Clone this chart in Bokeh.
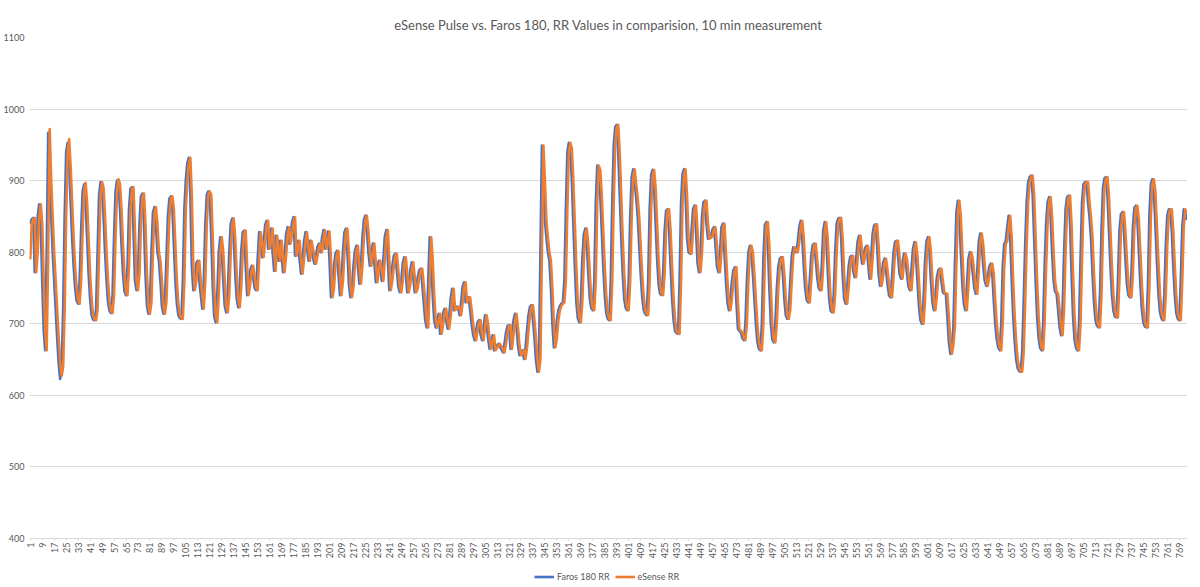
import math

from bokeh.embed import file_html
from bokeh.layouts import column
from bokeh.models import ColumnDataSource, FixedTicker, Legend, Range1d
from bokeh.plotting import figure
from bokeh.resources import INLINE

title_text = "eSense Pulse vs. Faros 180, RR Values in comparision, 10 min measurement"

# RR intervals in ms, one value per beat
faros_rr = [
    840, 846, 848, 772, 800, 850, 867, 840, 760, 690,
    663, 800, 967, 900, 850, 800, 760, 720, 680, 645,
    623, 640, 720, 850, 940, 953, 920, 870, 820, 780,
    750, 732, 728, 760, 830, 885, 895, 870, 820, 770,
    735, 712, 706, 705, 720, 800, 880, 898, 890, 850,
    800, 760, 730, 718, 715, 740, 820, 885, 900, 895,
    860, 810, 770, 745, 740, 780, 860, 889, 891, 830,
    760, 747, 770, 840, 878, 882, 840, 770, 725, 714,
    730, 800, 855, 863, 840, 800, 788, 760, 725, 714,
    730, 790, 850, 875, 878, 860, 810, 760, 728, 712,
    708, 707, 760, 860, 902, 925, 932, 880, 780, 747,
    760, 785, 788, 760, 740, 721, 760, 840, 880, 885,
    880, 820, 750, 710, 702, 740, 800, 821, 800, 760,
    725, 716, 740, 800, 840, 847, 820, 770, 735, 723,
    750, 800, 828, 830, 780, 740, 755, 775, 781, 765,
    750, 747, 790, 828, 815, 793, 815, 838, 844, 805,
    815, 833, 800, 774, 823, 805, 788, 816, 795, 772,
    795, 825, 835, 812, 825, 842, 849, 795, 805, 816,
    790, 770, 790, 815, 828, 805, 788, 816, 805, 792,
    784, 795, 808, 812, 800, 820, 831, 805, 815, 829,
    790, 737, 750, 780, 798, 802, 770, 740, 760, 800,
    828, 833, 800, 755, 737, 750, 780, 802, 809, 780,
    756, 780, 820, 845, 851, 830, 800, 781, 798, 812,
    785, 758, 775, 788, 775, 760, 790, 822, 831, 790,
    747, 760, 780, 795, 798, 775, 752, 744, 760, 785,
    793, 770, 744, 755, 775, 786, 765, 744, 750, 765,
    775, 777, 755, 730, 705, 695, 760, 821, 790, 740,
    705, 695, 705, 714, 686, 700, 715, 721, 705, 693,
    710, 735, 749, 719, 721, 724, 723, 712, 730, 752,
    758, 730, 735, 737, 720, 700, 685, 677, 690, 702,
    705, 685, 677, 695, 712, 700, 680, 665, 675, 684,
    663, 666, 670, 672, 668, 664, 660, 672, 688, 697,
    698, 665, 685, 705, 714, 695, 670, 656, 660, 663,
    651, 665, 690, 712, 724, 726, 705, 681, 650, 633,
    650, 800, 949, 900, 844, 820, 800, 788, 750, 700,
    667, 680, 705, 719, 725, 728, 730, 760, 860, 940,
    953, 945, 900, 840, 780, 730, 708, 702, 730, 790,
    825, 833, 810, 770, 735, 722, 719, 760, 870, 921,
    915, 880, 830, 780, 740, 715, 707, 705, 760, 870,
    950, 975, 978, 940, 880, 820, 770, 735, 722, 719,
    760, 850, 905, 916, 895, 877, 850, 810, 770, 738,
    720, 714, 712, 760, 860, 908, 915, 890, 840, 790,
    755, 742, 740, 770, 830, 858, 860, 830, 780, 735,
    705, 690, 687, 686, 760, 870, 910, 916, 880, 820,
    800, 798, 830, 860, 865, 830, 785, 772, 800, 850,
    870, 872, 840, 819, 820, 823, 832, 835, 810, 780,
    772, 800, 835, 840, 800, 760, 730, 719, 735, 760,
    775, 779, 730, 693, 690, 688, 680, 677, 700, 760,
    800, 809, 800, 770, 735, 700, 675, 665, 663, 700,
    790, 838, 842, 810, 750, 700, 678, 674, 700, 750,
    780, 791, 793, 770, 735, 712, 707, 720, 760, 795,
    807, 803, 800, 814, 835, 844, 820, 780, 748, 733,
    730, 760, 795, 810, 812, 790, 765, 750, 747, 780,
    830, 842, 820, 775, 735, 718, 716, 740, 800, 840,
    847, 848, 820, 770, 735, 728, 750, 780, 793, 795,
    775, 765, 790, 815, 823, 800, 784, 795, 806, 809,
    785, 763, 790, 825, 837, 839, 810, 770, 753, 765,
    785, 791, 775, 755, 740, 737, 765, 800, 814, 816,
    795, 770, 763, 785, 798, 790, 770, 752, 747, 775,
    805, 814, 795, 760, 725, 705, 700, 730, 785, 815,
    821, 800, 760, 730, 719, 740, 765, 775, 777, 760,
    744, 742, 742, 710, 675, 658, 670, 695, 780, 855,
    872, 850, 800, 755, 728, 719, 750, 790, 800, 790,
    770, 750, 742, 775, 815, 826, 810, 780, 760, 753,
    765, 780, 784, 770, 733, 700, 678, 667, 663, 700,
    780, 812, 815, 835, 851, 820, 760, 710, 675, 650,
    638, 634, 633, 660, 730, 810, 870, 898, 905, 907,
    880, 820, 760, 710, 680, 666, 663, 700, 780, 840,
    870, 877, 850, 800, 760, 745, 742, 720, 695, 684,
    720, 800, 860, 877, 879, 840, 770, 710, 678, 666,
    663, 700, 790, 870, 895, 898, 898, 870, 849, 820,
    770, 730, 705, 697, 695, 740, 830, 890, 903, 905,
    880, 830, 780, 740, 718, 710, 709, 760, 830, 853,
    856, 830, 790, 755, 740, 737, 770, 835, 862, 865,
    845, 800, 755, 720, 702, 696, 695, 750, 850, 895,
    902, 885, 840, 790, 745, 718, 708, 705, 740, 810,
    852, 860, 860, 830, 780, 740, 715, 707, 705, 760,
    835, 860, 855, 845,
]

esense_rr = [
    790, 840, 846, 848, 772, 800, 850, 867, 840, 760,
    690, 663, 800, 972, 900, 850, 800, 760, 720, 680,
    645, 627, 640, 720, 850, 940, 958, 920, 870, 820,
    780, 750, 732, 728, 760, 830, 885, 897, 870, 820,
    770, 735, 712, 706, 705, 720, 800, 880, 898, 890,
    850, 800, 760, 730, 718, 715, 740, 820, 885, 902,
    895, 860, 810, 770, 745, 740, 780, 860, 889, 891,
    830, 760, 747, 770, 840, 878, 882, 840, 770, 725,
    714, 730, 800, 855, 863, 840, 800, 788, 760, 725,
    714, 730, 790, 850, 875, 878, 860, 810, 760, 728,
    712, 708, 707, 760, 860, 902, 925, 932, 880, 780,
    747, 760, 785, 788, 760, 740, 721, 760, 840, 880,
    885, 880, 820, 750, 710, 702, 740, 800, 821, 800,
    760, 725, 716, 740, 800, 840, 847, 820, 770, 735,
    723, 750, 800, 828, 830, 780, 740, 755, 775, 781,
    765, 750, 747, 790, 828, 815, 793, 815, 838, 844,
    805, 815, 833, 800, 774, 823, 805, 788, 816, 795,
    772, 795, 825, 835, 812, 825, 842, 849, 795, 805,
    816, 790, 770, 790, 815, 828, 805, 788, 816, 805,
    792, 784, 795, 808, 812, 800, 820, 831, 805, 815,
    829, 790, 737, 750, 780, 798, 802, 770, 740, 760,
    800, 828, 833, 800, 755, 737, 750, 780, 802, 809,
    780, 756, 780, 820, 845, 851, 830, 800, 781, 798,
    812, 785, 758, 775, 788, 775, 760, 790, 822, 831,
    790, 747, 760, 780, 795, 798, 775, 752, 744, 760,
    785, 793, 770, 744, 755, 775, 786, 765, 744, 750,
    765, 775, 777, 755, 730, 705, 695, 760, 821, 790,
    740, 705, 695, 705, 714, 686, 700, 715, 721, 705,
    693, 710, 735, 749, 719, 721, 724, 723, 712, 730,
    752, 758, 730, 735, 737, 720, 700, 685, 677, 690,
    702, 705, 685, 677, 695, 712, 700, 680, 665, 675,
    684, 663, 666, 670, 672, 668, 664, 660, 672, 688,
    697, 698, 665, 685, 705, 714, 695, 670, 656, 660,
    663, 651, 665, 690, 712, 724, 726, 705, 681, 650,
    633, 650, 800, 949, 900, 844, 820, 800, 788, 750,
    700, 667, 680, 705, 719, 725, 728, 730, 760, 860,
    940, 953, 945, 900, 840, 780, 730, 708, 702, 730,
    790, 825, 833, 810, 770, 735, 722, 719, 760, 870,
    921, 915, 880, 830, 780, 740, 715, 707, 705, 760,
    870, 950, 975, 978, 940, 880, 820, 770, 735, 722,
    719, 760, 850, 905, 916, 895, 877, 850, 810, 770,
    738, 720, 714, 712, 760, 860, 908, 915, 890, 840,
    790, 755, 742, 740, 770, 830, 858, 860, 830, 780,
    735, 705, 690, 687, 686, 760, 870, 910, 916, 880,
    820, 800, 798, 830, 860, 865, 830, 785, 772, 800,
    850, 870, 872, 840, 819, 820, 823, 832, 835, 810,
    780, 772, 800, 835, 840, 800, 760, 730, 719, 735,
    760, 775, 779, 730, 693, 690, 688, 680, 677, 700,
    760, 800, 809, 800, 770, 735, 700, 675, 665, 663,
    700, 790, 838, 842, 810, 750, 700, 678, 674, 700,
    750, 780, 791, 793, 770, 735, 712, 707, 720, 760,
    795, 807, 803, 800, 814, 835, 844, 820, 780, 748,
    733, 730, 760, 795, 810, 812, 790, 765, 750, 747,
    780, 830, 842, 820, 775, 735, 718, 716, 740, 800,
    840, 847, 848, 820, 770, 735, 728, 750, 780, 793,
    795, 775, 765, 790, 815, 823, 800, 784, 795, 806,
    809, 785, 763, 790, 825, 837, 839, 810, 770, 753,
    765, 785, 791, 775, 755, 740, 737, 765, 800, 814,
    816, 795, 770, 763, 785, 798, 790, 770, 752, 747,
    775, 805, 814, 795, 760, 725, 705, 700, 730, 785,
    815, 821, 800, 760, 730, 719, 740, 765, 775, 777,
    760, 744, 742, 742, 710, 675, 658, 670, 695, 780,
    855, 872, 850, 800, 755, 728, 719, 750, 790, 800,
    790, 770, 750, 742, 775, 815, 826, 810, 780, 760,
    753, 765, 780, 784, 770, 733, 700, 678, 667, 663,
    700, 780, 812, 815, 835, 851, 820, 760, 710, 675,
    650, 638, 634, 633, 660, 730, 810, 870, 898, 905,
    907, 880, 820, 760, 710, 680, 666, 663, 700, 780,
    840, 870, 877, 850, 800, 760, 745, 742, 720, 695,
    684, 720, 800, 860, 877, 879, 840, 770, 710, 678,
    666, 663, 700, 790, 870, 895, 898, 898, 870, 849,
    820, 770, 730, 705, 697, 695, 740, 830, 890, 903,
    905, 880, 830, 780, 740, 718, 710, 709, 760, 830,
    853, 856, 830, 790, 755, 740, 737, 770, 835, 862,
    865, 845, 800, 755, 720, 702, 696, 695, 750, 850,
    895, 902, 885, 840, 790, 745, 718, 708, 705, 740,
    810, 852, 860, 860, 830, 780, 740, 715, 707, 705,
    760, 835, 860, 855,
]

beats = list(range(1, len(faros_rr) + 1))
x_ticks = list(range(1, 770, 8))
y_ticks = [400, 500, 600, 700, 800, 900, 1000, 1100]

FONT = "Lato"
GREY = "#595959"
BLUE = "#4472C4"
ORANGE = "#ED7D31"

source = ColumnDataSource(data=dict(beat=beats, faros=faros_rr, esense=esense_rr))

p = figure(frame_width=1158, frame_height=501, output_backend="svg", toolbar_location=None,
           x_range=Range1d(0.5, len(beats) + 0.5), y_range=Range1d(400, 1100),
           min_border_left=20, min_border_right=0, min_border_top=37, min_border_bottom=0)

p.title.text = title_text
p.title.align = "center"
p.title.text_font = FONT
p.title.text_font_size = "13px"
p.title.text_font_style = "normal"
p.title.text_color = GREY
p.outline_line_color = None

p.line(x="beat", y="faros", source=source, color=BLUE, line_width=2.6, line_join="round")
p.line(x="beat", y="esense", source=source, color=ORANGE, line_width=2.6, line_join="round")

p.xgrid.grid_line_color = None
p.ygrid.grid_line_color = "#D9D9D9"
p.ygrid.ticker = FixedTicker(ticks=y_ticks)

p.yaxis.ticker = FixedTicker(ticks=y_ticks)
p.yaxis.axis_label = None
p.yaxis.axis_line_color = None
p.yaxis.major_tick_line_color = None
p.yaxis.major_tick_out = 0
p.yaxis.minor_tick_line_color = None
p.yaxis.major_label_text_font = FONT
p.yaxis.major_label_text_font_size = "9px"
p.yaxis.major_label_text_color = GREY
p.yaxis.major_label_standoff = 5

p.xaxis.ticker = FixedTicker(ticks=x_ticks)
p.xaxis.axis_label = None
p.xaxis.axis_line_color = "#D9D9D9"
p.xaxis.major_tick_line_color = "#D9D9D9"
p.xaxis.major_tick_in = 0
p.xaxis.major_tick_out = 2
p.xaxis.minor_tick_line_color = None
p.xaxis.minor_tick_out = 0
p.xaxis.major_label_orientation = math.pi / 2
p.xaxis.major_label_text_font = FONT
p.xaxis.major_label_text_font_size = "9px"
p.xaxis.major_label_text_color = GREY
p.xaxis.major_label_standoff = 2
p.xaxis.axis_label_standoff = 0

# legend strip under the chart: same series, drawn out of view, only the legend shows
lf = figure(width=1183, height=24, output_backend="svg", toolbar_location=None,
            x_range=p.x_range, y_range=Range1d(0, 1), x_axis_type=None, y_axis_type=None,
            min_border=0)
lf.outline_line_color = None
lf.xgrid.grid_line_color = None
lf.ygrid.grid_line_color = None
r_faros = lf.line(x="beat", y="faros", source=source, color=BLUE, line_width=2.6)
r_esense = lf.line(x="beat", y="esense", source=source, color=ORANGE, line_width=2.6)

legend = Legend(items=[("Faros 180 RR", [r_faros]), ("eSense RR", [r_esense])],
                orientation="horizontal", location=(505, 3))
legend.label_text_font = FONT
legend.label_text_font_size = "9px"
legend.label_text_color = GREY
legend.label_height = 9
legend.label_standoff = 3
legend.glyph_width = 20
legend.glyph_height = 9
legend.spacing = 5
legend.padding = 0
legend.margin = 0
legend.border_line_color = None
legend.background_fill_alpha = 0
lf.add_layout(legend)

open("out.html", "w").write(file_html(column(p, lf), INLINE))
